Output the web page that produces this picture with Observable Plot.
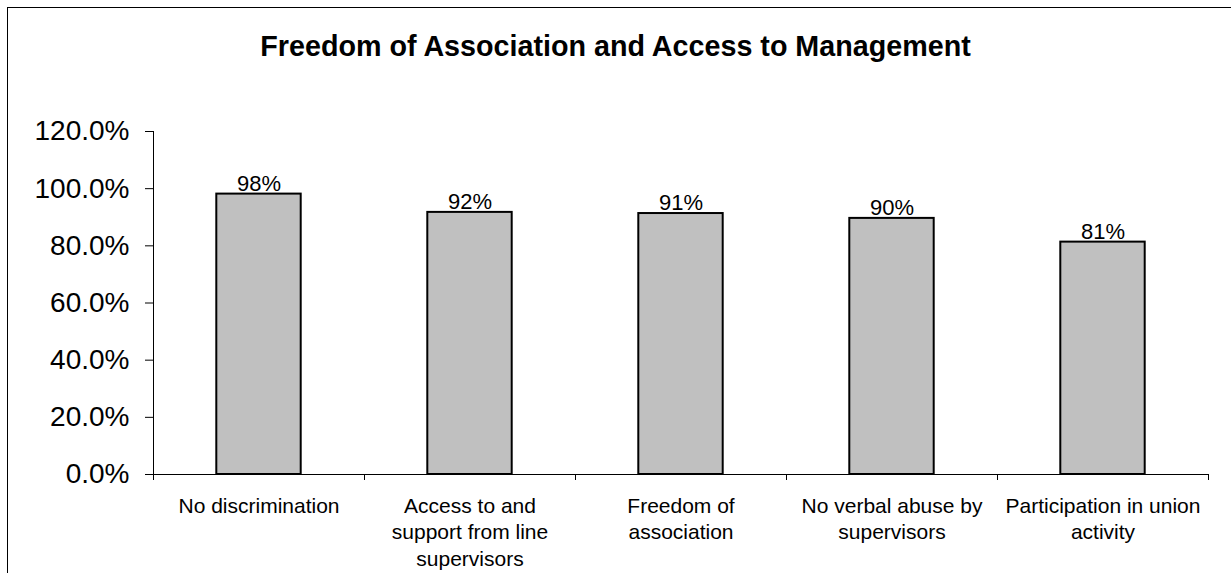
<!DOCTYPE html>
<html>
<head>
<meta charset="utf-8">
<script src="https://cdn.jsdelivr.net/npm/d3@7"></script>
<script src="https://cdn.jsdelivr.net/npm/@observablehq/plot@0.6"></script>
<style>
  html, body { margin: 0; padding: 0; background: #fff; }
  #wrap { position: relative; width: 1231px; height: 573px; overflow: hidden; font-family: "Liberation Sans", Arial, sans-serif; }
  #border { position: absolute; left: 7px; top: 7px; width: 1400px; height: 800px; border-left: 1.5px solid #000; border-top: 1.5px solid #000; }
  #title { position: relative; height: 80px; box-sizing: border-box; padding-top: 32px; text-align: center; font-size: 28.7px; line-height: 28px; font-weight: bold; color: #000; }
  #chart { position: relative; }
</style>
</head>
<body>
<div id="wrap">
  <div id="border"></div>
  <div id="title">Freedom of Association and Access to Management</div>
  <div id="chart"></div>
</div>
<script>
const categories = [
  "No discrimination",
  "Access to and\nsupport from line\nsupervisors",
  "Freedom of\nassociation",
  "No verbal abuse by\nsupervisors",
  "Participation in union\nactivity"
];
const values = [0.981, 0.917, 0.913, 0.896, 0.813];
const yTicks = [0, 0.2, 0.4, 0.6, 0.8, 1.0, 1.2];

const idx = categories.map((c, i) => i);
const pct0 = d3.format(".0%");
const pct1 = d3.format(".1%");

const chart = Plot.plot({
  width: 1231,
  height: 493,
  marginLeft: 153,
  marginRight: 23,
  marginTop: 51,
  marginBottom: 99,
  style: { fontFamily: "'Liberation Sans', Arial, sans-serif", color: "#000", background: "transparent", overflow: "visible" },
  x: { type: "linear", domain: [0, categories.length], axis: null },
  y: { domain: [0, 1.2], axis: null },
  marks: [
    Plot.axisY({ ticks: yTicks, tickFormat: pct1, tickSize: 8, tickPadding: 16, fontSize: 28, label: null, stroke: "#000" }),
    Plot.axisX({ ticks: d3.range(categories.length + 1), tickFormat: () => "", tickSize: 6, label: null, stroke: "#000" }),
    Plot.ruleX([0], { stroke: "#000" }),
    Plot.ruleY([0], { stroke: "#000" }),
    Plot.text(idx, {
      x: i => i + 0.5, y: i => values[i], text: i => pct0(values[i]),
      lineAnchor: "bottom", dy: -3.5, fontSize: 22, fill: "#000"
    }),
    Plot.rectY(idx, {
      x1: i => i + 0.3, x2: i => i + 0.7, y: i => values[i],
      fill: "#c0c0c0", stroke: "#000", strokeWidth: 2
    }),
    Plot.text(idx, {
      x: i => i + 0.5, y: () => 0, text: i => categories[i],
      lineAnchor: "top", dy: 20, fontSize: 21, lineHeight: 1.25, fill: "#000"
    })
  ]
});
document.getElementById("chart").appendChild(chart);
</script>
</body>
</html>
